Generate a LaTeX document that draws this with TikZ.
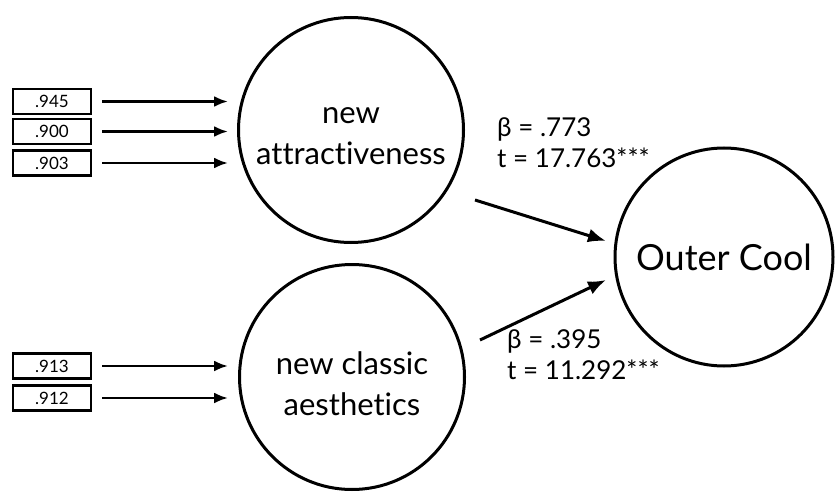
\documentclass[tikz,border=0pt]{standalone}
\usepackage{fontspec}
\setmainfont{Lato}[Ligatures={NoCommon,NoRequired,NoContextual}]
\usetikzlibrary{arrows.meta}
\begin{document}
\begin{tikzpicture}[x=1pt,y=-1pt,
  latent/.style={circle,draw,line width=3pt,minimum size=225pt,inner sep=0pt},
  ltext/.style={align=center,inner sep=0pt,font=\fontsize{31}{41}\selectfont},
  indic/.style={draw,line width=2.7pt,minimum width=78pt,minimum height=25pt,inner sep=0pt,font=\fontsize{17}{19}\selectfont},
  arr/.style={line width=2.6pt,-{Latex[length=14pt,width=11pt]}},
  path/.style={line width=3pt,-{Latex[length=18pt,width=14pt]}},
  lab/.style={align=left,anchor=north west,inner sep=0pt,font=\fontsize{26}{31}\selectfont}]
\useasboundingbox (0,0) rectangle (835,492);
\node[latent] (A) at (351,130) {};
\node[ltext] (At) at ([yshift=-6pt]A.center) {new\\attractiveness};
\node[latent] (B) at (352,377) {};
\node[ltext] (Bt) at ([yshift=-7pt]B.center) {new classic\\aesthetics};
\node[latent,minimum size=218pt,font=\fontsize{36}{40}\selectfont] (C) at (724,257) {Outer Cool};
\node[indic] (a1) at (52,101.5) {.945};
\node[indic] (a2) at (52,131.5) {.900};
\node[indic] (a3) at (52,163) {.903};
\node[indic] (b1) at (52,366) {.913};
\node[indic] (b2) at (52,398) {.912};
\coordinate (ta1) at (228,101.5);
\coordinate (ta2) at (228,131.5);
\coordinate (ta3) at (228,163);
\coordinate (tb1) at (228,366);
\coordinate (tb2) at (228,398);
\draw[arr] ([xshift=10pt]a1.east) -- (ta1);
\draw[arr] ([xshift=10pt]a2.east) -- (ta2);
\draw[arr] ([xshift=10pt]a3.east) -- (ta3);
\draw[arr] ([xshift=10pt]b1.east) -- (tb1);
\draw[arr] ([xshift=10pt]b2.east) -- (tb2);
\coordinate (sA) at (475,200);
\coordinate (eA) at (606,241);
\coordinate (sB) at (480,340);
\coordinate (eB) at (606,280);
\draw[path] (sA) -- (eA);
\draw[path] (sB) -- (eB);
\node[lab] (lA) at (497,117) {β = .773\\t = 17.763***};
\node[lab] (lB) at (507,329) {β = .395\\t = 11.292***};
\end{tikzpicture}
\end{document}
